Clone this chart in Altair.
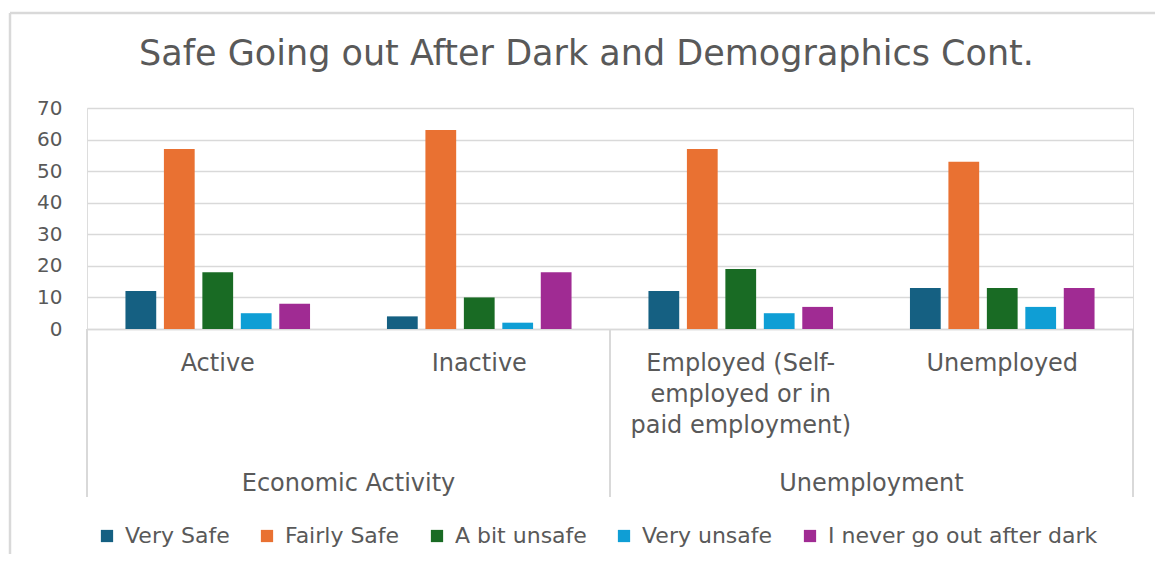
import altair as alt
import pandas as pd

# ---- data ----
categories = ["Active", "Inactive", "Employed (Self-employed or in paid employment)", "Unemployed"]
category_labels = ["Active", "Inactive", "Employed (Self-\nemployed or in\npaid employment)", "Unemployed"]
groups = ["Economic Activity", "Unemployment"]
group_first_category = ["Active", "Employed (Self-employed or in paid employment)"]
series = ["Very Safe", "Fairly Safe", "A bit unsafe", "Very unsafe", "I never go out after dark"]
colors = ["#156082", "#E97132", "#196B24", "#0F9ED5", "#A02B93"]
very_safe = [12, 4, 12, 13]
fairly_safe = [57, 63, 57, 53]
a_bit_unsafe = [18, 10, 19, 13]
very_unsafe = [5, 2, 5, 7]
never_out = [8, 18, 7, 13]
y_ticks = [0, 10, 20, 30, 40, 50, 60, 70]

values = [very_safe, fairly_safe, a_bit_unsafe, very_unsafe, never_out]
rows = []
for s, vals in zip(series, values):
    for c, v in zip(categories, vals):
        rows.append({"category": c, "series": s, "value": v})
df = pd.DataFrame(rows)
cat_df = pd.DataFrame({"category": categories, "label": category_labels})
grp_df = pd.DataFrame({"category": group_first_category, "group": groups})
sep_start_df = pd.DataFrame({"category": group_first_category})
sep_end_df = pd.DataFrame({"category": [categories[-1]]})
frame_df = pd.DataFrame({"part": ["frame"]})

FONT = "DejaVu Sans"
TXT = "#595959"
GRID = "#d9d9d9"

x_scale = alt.Scale(domain=categories, paddingInner=0, paddingOuter=0)
x_axis = alt.Axis(labels=False, ticks=False, domain=True, domainColor=GRID,
                  domainWidth=1.5, grid=False, title=None)

bars = alt.Chart(df).mark_bar().encode(
    x=alt.X("category:N", scale=x_scale, axis=x_axis, sort=categories),
    xOffset=alt.XOffset("series:N", sort=series,
                        scale=alt.Scale(domain=series, paddingInner=0.2,
                                        paddingOuter=alt.ExprRef(expr="1.087"))),
    y=alt.Y("value:Q", scale=alt.Scale(domain=[0, 70]),
            axis=alt.Axis(values=y_ticks, title=None, domain=False, ticks=False,
                          grid=True, gridColor=GRID, gridWidth=1.5,
                          labelFont=FONT, labelFontSize=20, labelColor=TXT,
                          labelPadding=25)),
    color=alt.Color("series:N", sort=series,
                    scale=alt.Scale(domain=series, range=colors),
                    legend=alt.Legend(orient="none", direction="horizontal",
                                      legendX=9, legendY=417, title=None,
                                      symbolType="square", symbolSize=150,
                                      symbolStrokeWidth=0, labelLimit=0,
                                      labelFont=FONT, labelFontSize=22,
                                      labelColor=TXT, columnPadding=26,
                                      labelOffset=7)),
)

cat_text = alt.Chart(cat_df).mark_text(
    font=FONT, fontSize=24, color=TXT, baseline="alphabetic",
    align="center", lineBreak="\n", lineHeight=31
).encode(
    x=alt.X("category:N", scale=x_scale, sort=categories),
    y=alt.value(263),
    text="label:N",
)

grp_text = alt.Chart(grp_df).mark_text(
    font=FONT, fontSize=24, color=TXT, baseline="alphabetic", align="center"
).encode(
    x=alt.X("category:N", scale=x_scale, sort=categories, bandPosition=1),
    y=alt.value(383),
    text="group:N",
)

sep_start = alt.Chart(sep_start_df).mark_rule(color=GRID, strokeWidth=2).encode(
    x=alt.X("category:N", scale=x_scale, sort=categories, bandPosition=0),
    y=alt.value(221), y2=alt.value(389),
)
sep_end = alt.Chart(sep_end_df).mark_rule(color=GRID, strokeWidth=2).encode(
    x=alt.X("category:N", scale=x_scale, sort=categories, bandPosition=1),
    y=alt.value(221), y2=alt.value(389),
)

# light chart-area frame (top and left edges visible in the reference)
frame_top = alt.Chart(frame_df).mark_rule(color=GRID, strokeWidth=2.5).encode(
    x=alt.value(-77), x2=alt.value(1076), y=alt.value(-95),
)
frame_left = alt.Chart(frame_df).mark_rule(color=GRID, strokeWidth=2.5).encode(
    x=alt.value(-77), y=alt.value(-95), y2=alt.value(460),
)

chart = alt.layer(frame_top, frame_left, bars, sep_start, sep_end, cat_text, grp_text).properties(
    width=1046, height=221,
    autosize=alt.AutoSizeParams(type="none"),
    padding={"left": 79, "top": 100, "right": 22, "bottom": 225},
    title=alt.TitleParams("Safe Going out After Dark and Demographics Cont.",
                          font=FONT, fontSize=35, color=TXT, fontWeight="normal",
                          anchor="middle", frame="bounds", baseline="alphabetic",
                          offset=-88),
).configure_view(stroke=None).configure(background="white")

chart.save("out.html", embed_options={"renderer": "svg", "actions": False})
